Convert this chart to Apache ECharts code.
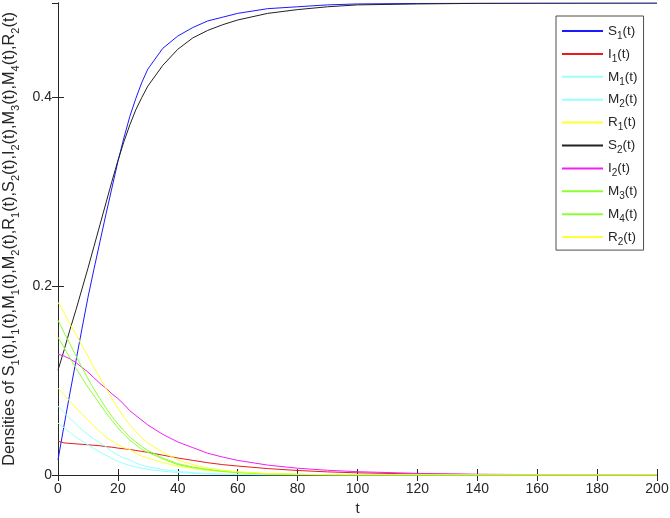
<!DOCTYPE html>
<html>
<head>
<meta charset="utf-8">
<script src="https://cdn.jsdelivr.net/npm/echarts@6/dist/echarts.min.js"></script>
<style>html,body{margin:0;padding:0;background:#fff}#c{width:670px;height:518px}</style>
</head>
<body>
<div id="c"></div>
<script>
// time grid
const tGrid = [0,2,4,6,8,10,12,14,16,18,20,22,24,26,28,30,35,40,45,50,55,60,70,80,90,100,120,140,160,180,200];
// series values
const S1 = [0.016,0.052,0.087,0.121,0.155,0.188,0.218,0.247,0.276,0.304,0.332,0.357,0.380,0.399,0.416,0.430,0.452,0.465,0.474,0.481,0.485,0.489,0.494,0.496,0.498,0.499,0.4995,0.4998,0.4999,0.5,0.5];
const I1 = [0.036,0.034,0.0335,0.033,0.0325,0.032,0.0315,0.031,0.030,0.0295,0.0285,0.0278,0.027,0.026,0.025,0.024,0.021,0.018,0.0155,0.013,0.011,0.0095,0.0068,0.0048,0.0033,0.0023,0.0011,0.0005,0.0002,0.0001,0.00005];
const M1 = [0.073,0.066,0.060,0.054,0.048,0.043,0.038,0.034,0.030,0.025,0.021,0.018,0.016,0.0125,0.0105,0.0088,0.0058,0.0038,0.0025,0.0017,0.0011,0.0007,0.0003,0.0001,0.00005,0,0,0,0,0,0];
const M2 = [0.055,0.050,0.045,0.040,0.036,0.032,0.028,0.0245,0.021,0.0175,0.0145,0.012,0.010,0.0085,0.0072,0.006,0.004,0.0026,0.0017,0.0011,0.0007,0.0005,0.0002,0.0001,0.00005,0,0,0,0,0,0];
const R1 = [0.092,0.085,0.078,0.071,0.065,0.058,0.052,0.046,0.040,0.036,0.032,0.029,0.027,0.023,0.020,0.018,0.013,0.0095,0.0068,0.0048,0.0034,0.0024,0.0012,0.0006,0.0003,0.00015,0.00004,0,0,0,0];
const S2 = [0.111,0.132,0.154,0.175,0.197,0.219,0.242,0.265,0.288,0.311,0.333,0.353,0.371,0.387,0.400,0.412,0.434,0.451,0.463,0.471,0.477,0.482,0.489,0.493,0.496,0.498,0.499,0.4996,0.4998,0.4999,0.5];
const I2 = [0.128,0.126,0.123,0.119,0.114,0.109,0.103,0.097,0.092,0.086,0.081,0.075,0.068,0.063,0.058,0.053,0.043,0.035,0.029,0.023,0.019,0.0155,0.0105,0.0072,0.005,0.0035,0.0017,0.0008,0.0004,0.0002,0.0001];
const M3 = [0.164,0.151,0.139,0.126,0.114,0.102,0.091,0.081,0.071,0.062,0.054,0.047,0.040,0.035,0.030,0.026,0.018,0.012,0.0085,0.006,0.004,0.0028,0.0013,0.0006,0.0003,0.00015,0.00004,0,0,0,0];
const M4 = [0.146,0.135,0.124,0.113,0.103,0.093,0.084,0.075,0.066,0.058,0.050,0.043,0.037,0.032,0.027,0.024,0.017,0.011,0.0078,0.0055,0.0038,0.0026,0.0012,0.0006,0.0003,0.00014,0.00003,0,0,0,0];
const R2 = [0.183,0.172,0.160,0.149,0.137,0.126,0.114,0.103,0.092,0.081,0.071,0.061,0.053,0.046,0.039,0.034,0.024,0.016,0.011,0.0075,0.005,0.0035,0.0016,0.0008,0.0004,0.0002,0.00005,0,0,0,0];

const seriesNames = ['S1(t)','I1(t)','M1(t)','M2(t)','R1(t)','S2(t)','I2(t)','M3(t)','M4(t)','R2(t)'];
const seriesValues = [S1,I1,M1,M2,R1,S2,I2,M3,M4,R2];
const seriesColors = ['#1a1aff','#e81c1c','#99ffff','#99ffff','#ffff33','#222222','#f020f0','#8cff33','#8cff33','#ffff33'];
const xTicks = {min:0, max:200, interval:20};
const yTicks = {min:0, max:0.5, interval:0.2};
const xTitle = 't';
const yTitleParts = ['S1(t)','I1(t)','M1(t)','M2(t)','R1(t)','S2(t)','I2(t)','M3(t)','M4(t)','R2(t)'];

const FONT = 'Liberation Sans, Arial, Helvetica, sans-serif';
const TXT = '#262626';
function richify(s){ return '{n|' + s.replace(/([A-Z])(\d)/g, '$1}{sub|$2}{n|') + '}'; }
const yTitle = richify('Densities of ' + yTitleParts.join(','));

const chart = echarts.init(document.getElementById('c'), null, {renderer:'canvas'});
const axisLineStyle = {color:'#262626', width:1};
const tickIn = {show:true, inside:false, length:-6, lineStyle:axisLineStyle};
const option = {
  animation:false,
  backgroundColor:'#fff',
  grid:{left:58, right:13, top:3, bottom:43, containLabel:false, outerBoundsMode:'none'},
  legend:{
    orient:'vertical', left:556, top:16,
    padding:[8,6,3,5], itemGap:5.9, itemWidth:41, itemHeight:14,
    backgroundColor:'#fff', borderColor:'#4d4d4d', borderWidth:1, borderRadius:0,
    itemStyle:{opacity:0},
    data:seriesNames,
    formatter:(name)=>richify(name),
    textStyle:{color:TXT, fontFamily:FONT, fontSize:13,
      rich:{
        n:{fontSize:13.5, lineHeight:14, verticalAlign:'top', fontFamily:FONT, color:TXT},
        sub:{fontSize:10, lineHeight:9, padding:[7,0,0,0], verticalAlign:'top', fontFamily:FONT, color:TXT}
      }}
  },
  xAxis:[{
    type:'value', min:xTicks.min, max:xTicks.max, interval:xTicks.interval,
    name:xTitle, nameLocation:'middle', nameGap:25,
    nameTextStyle:{fontFamily:FONT, fontSize:15, color:TXT},
    axisLine:{show:true, onZero:false, lineStyle:axisLineStyle},
    axisTick:tickIn,
    axisLabel:{show:true, margin:7, fontFamily:FONT, fontSize:14, color:TXT},
    splitLine:{show:false}
  },{
    type:'value', position:'top', min:xTicks.min, max:xTicks.max, interval:xTicks.interval,
    axisLine:{show:true, lineStyle:axisLineStyle},
    axisTick:tickIn,
    axisLabel:{show:false}, splitLine:{show:false}
  }],
  yAxis:[{
    type:'value', min:yTicks.min, max:yTicks.max, interval:yTicks.interval,
    name:yTitle, nameLocation:'middle', nameGap:36, nameRotate:90,
    nameTextStyle:{fontFamily:FONT, fontSize:16.3, color:TXT,
      rich:{
        n:{fontSize:16.3, lineHeight:18, verticalAlign:'top', fontFamily:FONT, color:TXT},
        sub:{fontSize:11, lineHeight:11, padding:[9,0,0,0], verticalAlign:'top', fontFamily:FONT, color:TXT}
      }},
    axisLine:{show:true, onZero:false, lineStyle:axisLineStyle},
    axisTick:tickIn,
    axisLabel:{show:true, margin:6, fontFamily:FONT, fontSize:14, color:TXT, showMaxLabel:false},
    splitLine:{show:false}
  },{
    type:'value', position:'right', min:yTicks.min, max:yTicks.max, interval:yTicks.interval,
    axisLine:{show:true, lineStyle:axisLineStyle},
    axisTick:tickIn,
    axisLabel:{show:false}, splitLine:{show:false}
  }],
  series: seriesNames.map((nm,i)=>({
    name:nm, type:'line', xAxisIndex:0, yAxisIndex:0,
    data: tGrid.map((t,k)=>[t, seriesValues[i][k]]),
    symbol:'none', smooth:false,
    lineStyle:{color:seriesColors[i], width:1},
    itemStyle:{color:seriesColors[i]},
    emphasis:{disabled:true}
  }))
};
chart.setOption(option);
</script>
</body>
</html>
